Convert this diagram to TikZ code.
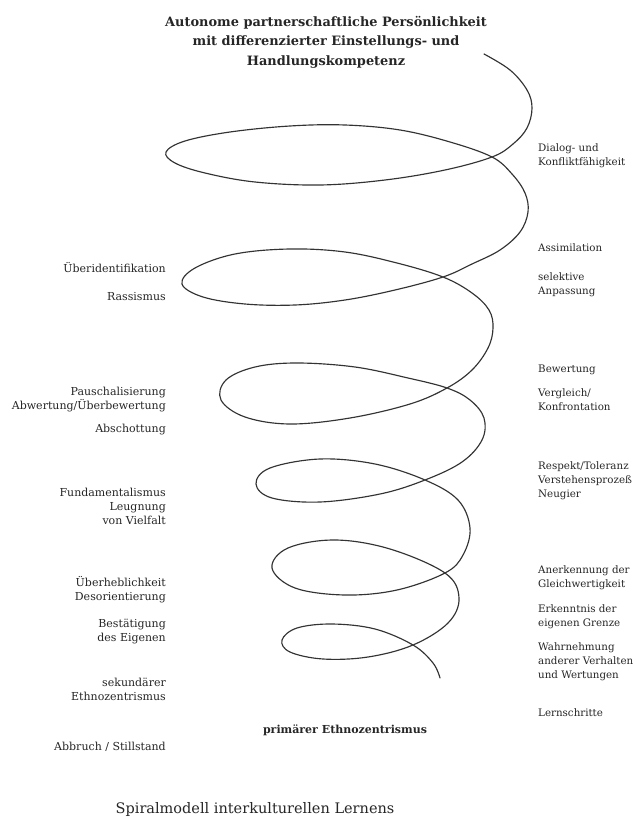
\documentclass[tikz,border=0pt]{standalone}
\usepackage{fontspec}
\setmainfont{DejaVu Serif}
\begin{document}
\begin{tikzpicture}[x=1pt,y=-1pt,
  lbl/.style={inner sep=0pt,font=\fontsize{11}{14}\selectfont,text=black!85},
  lleft/.style={lbl,anchor=east,align=right},
  lright/.style={lbl,anchor=west,align=left,font=\fontsize{10.3}{14}\selectfont},
  ttl/.style={inner sep=0pt,font=\fontsize{12.9}{19.5}\selectfont\bfseries,text=black!85,align=center},
  spiral/.style={line width=1.15pt,draw=black!80,line join=round,line cap=round}]
\useasboundingbox[fill=white] (0,0) rectangle (636,818);

\node[ttl] (title) at (326,42) {Autonome partnerschaftliche Persönlichkeit\\mit differenzierter Einstellungs- und\\Handlungskompetenz};

\draw[spiral] plot[smooth,tension=0.6] coordinates {
(484,54) (510,70) (527,90) (532,108) (527,128) (513,144) (492,157)
(445,170) (385,180) (320,185) (255,182) (205,173) (175,163) (166,152) (185,141) (230,132) (290,126) (345,125) (400,130) (450,142) (492,157)
(512,174) (525,193) (528,212) (520,232) (500,250) (472,264) (443,277)
(395,290) (345,300) (295,305) (245,304) (203,297) (182,284) (195,268) (235,254) (290,249) (345,252) (397,263) (443,277)
(472,293) (489,310) (493,328) (488,348) (472,370) (447,388)
(410,404) (350,418) (290,424) (245,417) (221,400) (226,380) (255,367) (297,363) (355,367) (408,378) (447,388)
(470,400) (484,418) (482,440) (462,462) (425,480)
(380,494) (320,502) (272,498) (256,484) (270,468) (320,459) (375,464) (425,480)
(458,500) (470,528) (463,555) (445,573)
(397,590) (345,595) (295,588) (272,568) (288,548) (335,540) (390,549) (445,573)
(459,598) (448,623) (413,645)
(368,657) (323,659) (290,652) (282,640) (297,628) (332,624) (375,629) (413,645)
(433,663) (440,678)};

% left labels
\node[lleft] (l1) at (166,268) {Überidentifikation};
\node[lleft] (l2) at (166,297) {Rassismus};
\node[lleft] (l3) at (166,400) {Pauschalisierung\\Abwertung/Überbewertung};
\node[lleft] (l4) at (166,430) {Abschottung};
\node[lleft] (l5) at (166,506) {Fundamentalismus\\Leugnung\\von Vielfalt};
\node[lleft] (l6) at (166,589.5) {Überheblichkeit\\Desorientierung};
\node[lleft] (l7) at (166,631.5) {Bestätigung\\des Eigenen};
\node[lleft] (l8) at (166,689.5) {sekundärer\\Ethnozentrismus};
\node[lleft] (l9) at (166,747) {Abbruch / Stillstand};

% right labels
\node[lright] (r1) at (538,155.5) {Dialog- und\\Konfliktfähigkeit};
\node[lright] (r2) at (538,248) {Assimilation};
\node[lright] (r3) at (538,284.5) {selektive\\Anpassung};
\node[lright] (r4) at (538,370) {Bewertung};
\node[lright] (r5) at (538,400) {Vergleich/\\Konfrontation};
\node[lright] (r6) at (538,481) {Respekt/Toleranz\\Verstehensprozeß\\Neugier};
\node[lright] (r7) at (538,577.5) {Anerkennung der\\Gleichwertigkeit};
\node[lright] (r8) at (538,616.5) {Erkenntnis der\\eigenen Grenze};
\node[lright] (r9) at (538,662) {Wahrnehmung\\anderer Verhalten\\und Wertungen};
\node[lright] (r10) at (538,713) {Lernschritte};

\node[inner sep=0pt,font=\fontsize{11}{13}\selectfont\bfseries,text=black!85] (prim) at (345,730) {primärer Ethnozentrismus};
\node[inner sep=0pt,font=\fontsize{14.5}{17}\selectfont,text=black!85] (cap) at (255,809) {Spiralmodell interkulturellen Lernens};
\end{tikzpicture}
\end{document}
